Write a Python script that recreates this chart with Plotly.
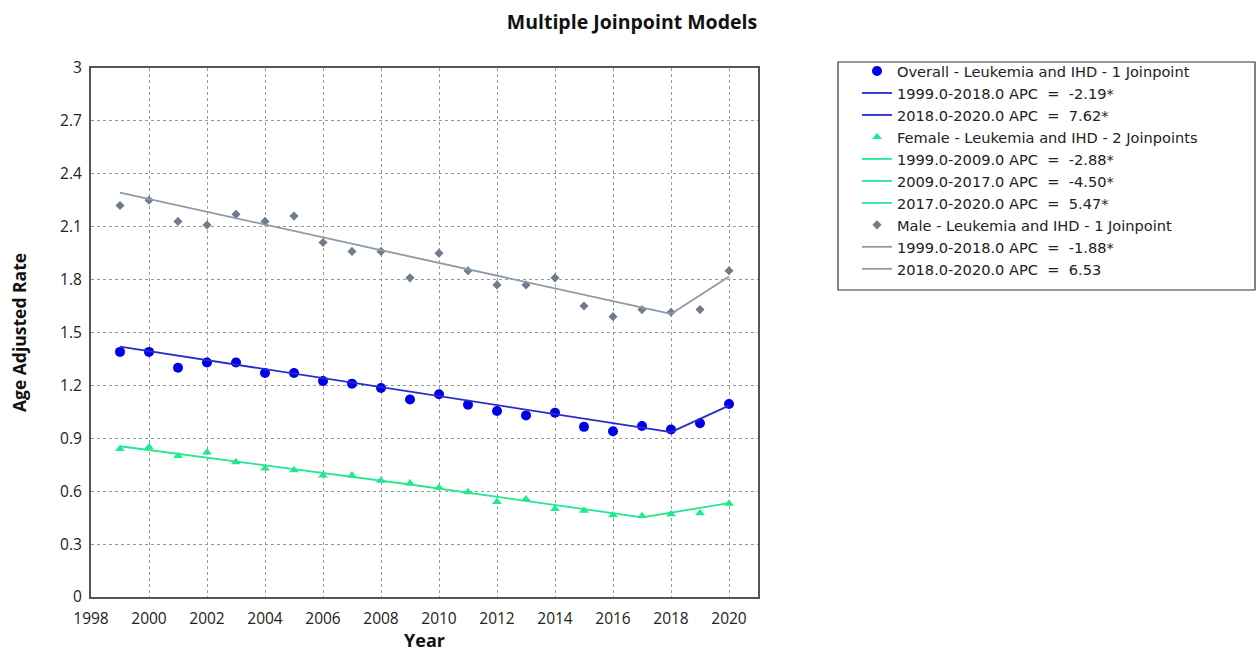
import plotly.graph_objects as go

years = list(range(1999, 2021))

overall_obs = [1.39, 1.39, 1.30, 1.33, 1.33, 1.27, 1.27, 1.225, 1.21, 1.185, 1.12,
               1.15, 1.09, 1.055, 1.03, 1.045, 0.965, 0.94, 0.97, 0.95, 0.985, 1.095]
female_obs = [0.84, 0.85, 0.80, 0.82, 0.765, 0.73, 0.72, 0.69, 0.69, 0.66, 0.645,
              0.62, 0.595, 0.54, 0.555, 0.50, 0.49, 0.465, 0.46, 0.47, 0.475, 0.53]
male_obs = [2.22, 2.25, 2.13, 2.11, 2.17, 2.13, 2.16, 2.01, 1.96, 1.96, 1.81,
            1.95, 1.85, 1.77, 1.77, 1.81, 1.65, 1.59, 1.63, 1.615, 1.63, 1.85]

# Fitted joinpoint segments: (x endpoints, y endpoints, legend label)
overall_segments = [
    ([1999, 2018], [1.42, 0.935], "1999.0-2018.0 APC  =  -2.19*"),
    ([2018, 2020], [0.935, 1.085], "2018.0-2020.0 APC  =  7.62*"),
]
female_segments = [
    ([1999, 2009], [0.855, 0.638], "1999.0-2009.0 APC  =  -2.88*"),
    ([2009, 2017], [0.638, 0.452], "2009.0-2017.0 APC  =  -4.50*"),
    ([2017, 2020], [0.452, 0.532], "2017.0-2020.0 APC  =  5.47*"),
]
male_segments = [
    ([1999, 2018], [2.293, 1.605], "1999.0-2018.0 APC  =  -1.88*"),
    ([2018, 2020], [1.605, 1.818], "2018.0-2020.0 APC  =  6.53"),
]

x_ticks = list(range(1998, 2021, 2))

C_OVERALL_M = "#0000e6"
C_OVERALL_L = "#2a2ad0"
C_FEMALE = "#22e890"
C_MALE_M = "#6e7c8c"
C_MALE_L = "#8f9aa8"

fig = go.Figure()

def add_series(obs, segments, name, mcolor, lcolor, symbol, msize):
    fig.add_trace(go.Scatter(x=years, y=obs, mode="markers", name=name,
                             marker=dict(color=mcolor, symbol=symbol, size=msize)))
    for xs, ys, lab in segments:
        fig.add_trace(go.Scatter(x=xs, y=ys, mode="lines", name=lab,
                                 line=dict(color=lcolor, width=1.8)))

add_series(overall_obs, overall_segments, "Overall - Leukemia and IHD - 1 Joinpoint",
           C_OVERALL_M, C_OVERALL_L, "circle", 10)
add_series(female_obs, female_segments, "Female - Leukemia and IHD - 2 Joinpoints",
           C_FEMALE, C_FEMALE, "triangle-up", 8.5)
add_series(male_obs, male_segments, "Male - Leukemia and IHD - 1 Joinpoint",
           C_MALE_M, C_MALE_L, "diamond", 7)

font_family = "Open Sans, Noto Sans, DejaVu Sans, sans-serif"

fig.update_layout(
    width=1258, height=652,
    margin=dict(l=91, r=500, t=68, b=55),
    paper_bgcolor="white", plot_bgcolor="white",
    font=dict(family=font_family, size=15, color="#222"),
    title=dict(text="<b>Multiple Joinpoint Models</b>", x=632 / 1258, xanchor="center",
               y=1 - 22 / 652, yanchor="middle", font=dict(size=19.5, color="#111")),
    showlegend=True,
    legend=dict(x=(857 - 91) / 667, xanchor="left", y=1 + 13 / 529, yanchor="top",
                bgcolor="rgba(0,0,0,0)", borderwidth=0,
                font=dict(family="DejaVu Sans, sans-serif", size=14.6, color="#222"),
                itemsizing="trace"),
    shapes=[dict(type="rect", xref="paper", yref="paper",
                 x0=(838 - 91) / 667, x1=(1255 - 91) / 667,
                 y0=1 - (290 - 68) / 529, y1=1 + (68 - 62) / 529,
                 line=dict(color="#333", width=1.2), fillcolor="rgba(0,0,0,0)")],
)

fig.update_xaxes(range=[1998, 2021], tickvals=x_ticks, showgrid=True,
                 gridcolor="#999", griddash="dot", gridwidth=1,
                 showline=True, mirror=True, linecolor="#555", linewidth=2,
                 ticks="", zeroline=False, automargin=False, ticklabelstandoff=6,
                 title=dict(text="<b>Year</b>", font=dict(size=18, color="#111"), standoff=18),
                 tickfont=dict(size=15.5, color="#222"))
fig.update_yaxes(range=[0, 3], dtick=0.3, tick0=0, showgrid=True,
                 gridcolor="#999", griddash="dot", gridwidth=1,
                 showline=True, mirror=True, linecolor="#555", linewidth=2,
                 ticks="", zeroline=False, automargin=False, ticklabelstandoff=4,
                 title=dict(text="<b>Age Adjusted Rate</b>", font=dict(size=17.5, color="#111"), standoff=29),
                 tickfont=dict(size=15.5, color="#222"))

fig.write_html("out.html")
